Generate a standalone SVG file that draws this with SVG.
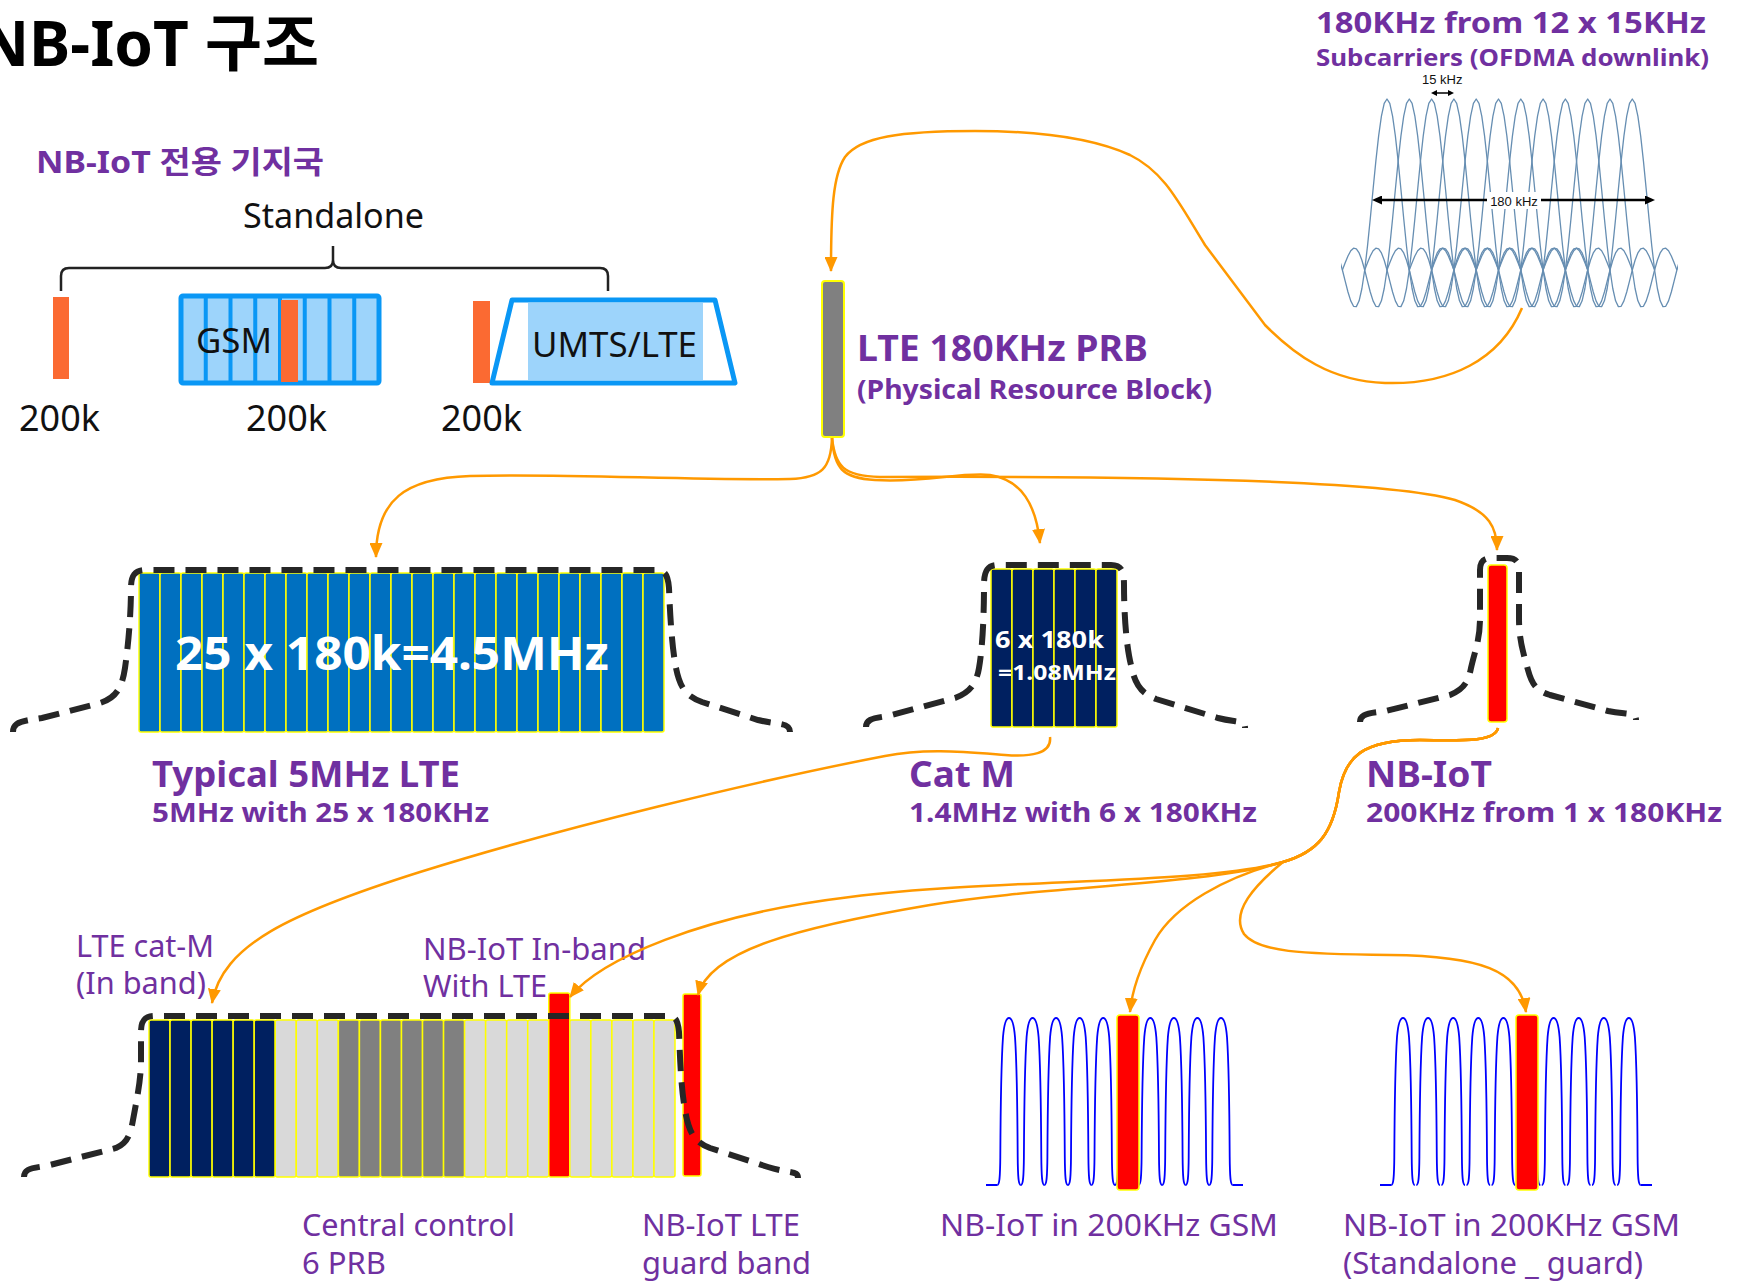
<svg xmlns="http://www.w3.org/2000/svg" xmlns:xlink="http://www.w3.org/1999/xlink" width="1741" height="1283" viewBox="0 0 1741 1283">
<defs>
<style>
text{font-family:"Noto Sans","Noto Sans CJK KR",sans-serif}
.pb{fill:#7030A0;font-weight:bold}
.pr{fill:#7030A0}
.wb{fill:#fff;font-weight:bold}
.bk{fill:#111}
.cell{stroke:#FFFF00;stroke-width:1.5}
.b1{fill:#0070C0}.nv{fill:#002060}.lg{fill:#D9D9D9}.gr{fill:#808080}.rd{fill:#FF0000}
.env{fill:none;stroke:#262626;stroke-width:6;stroke-dasharray:21 11}
.con{fill:none;stroke:#FF9900;stroke-width:2.5;marker-end:url(#ah)}
.or{fill:#FB6A32}
</style>
<marker id="ah" viewBox="0 0 15 13" markerWidth="15" markerHeight="13" refX="14" refY="6.5" orient="auto" markerUnits="userSpaceOnUse"><path d="M0 0L15 6.5L0 13z" fill="#FF9900"/></marker>
<marker id="bka" viewBox="0 0 10 9" markerWidth="10" markerHeight="9" refX="1" refY="4.5" orient="auto-start-reverse" markerUnits="userSpaceOnUse"><path d="M0 0L10 4.5L0 9z" fill="#000"/></marker>
<marker id="bks" viewBox="0 0 6 6" markerWidth="6" markerHeight="6" refX="1" refY="3" orient="auto-start-reverse" markerUnits="userSpaceOnUse"><path d="M0 0L6 3L0 6z" fill="#000"/></marker>
<path id="sinc" d="M-66.9 0L-64.11-7.2L-61.33-14L-58.54-19.2L-55.75-21.8L-52.96-21.2L-50.18-17.1L-47.39-9.8L-44.6 0L-41.81 11.1L-39.03 22L-36.24 30.9L-33.45 36.3L-30.66 36.6L-27.88 30.8L-25.09 18.5L-22.3 0L-19.51-23.8L-16.73-51.3L-13.94-80.5L-11.15-108.9L-8.36-134.1L-5.58-153.9L-2.79-166.6L0-171L2.79-166.6L5.58-153.9L8.36-134.1L11.15-108.9L13.94-80.5L16.73-51.3L19.51-23.8L22.3 0L25.09 18.5L27.88 30.8L30.66 36.6L33.45 36.3L36.24 30.9L39.03 22L41.81 11.1L44.6 0L47.39-9.8L50.18-17.1L52.96-21.2L55.75-21.8L58.54-19.2L61.33-14L64.11-7.2L66.9 0"/>
<path id="bell" d="M-11.8 0C-9.6 0-8.9-7-8.7-28C-8.4-80-7.6-125-6-148C-4.8-162-2.5-167 0-167C2.5-167 4.8-162 6-148C7.6-125 8.4-80 8.7-28C8.9-7 9.6 0 11.8 0"/>
<clipPath id="oc"><rect x="1341" y="80" width="337" height="240"/></clipPath>
</defs>
<rect width="1741" height="1283" fill="#fff"/>

<g id="title">
<text x="319" y="66" text-anchor="end" font-size="62" font-weight="bold" fill="#000">NB-IoT 구조</text>
</g>

<g id="standalone">
<text class="pb" x="36" y="173" font-size="31" textLength="288" lengthAdjust="spacingAndGlyphs">NB-IoT 전용 기지국</text>
<text class="bk" x="243" y="228" font-size="34" textLength="181" lengthAdjust="spacingAndGlyphs">Standalone</text>
<path d="M61 291V276Q61 268 69 268H325Q333 268 333 260V246M333 260Q333 268 341 268H600Q608 268 608 276V291" fill="none" stroke="#222" stroke-width="2.5"/>
<rect class="or" x="53" y="297" width="16" height="82"/>
<text class="bk" x="19" y="431" font-size="37" textLength="81" lengthAdjust="spacingAndGlyphs">200k</text>
</g>

<g id="gsm-band">
<rect x="181" y="296" width="198" height="87" rx="2" fill="#9DD4FB" stroke="#0A97F5" stroke-width="5"/>
<path d="M205.75 296V383M230.5 296V383M255.25 296V383M280 296V383M304.75 296V383M329.5 296V383M354.25 296V383" stroke="#0A97F5" stroke-width="4"/>
<rect class="or" x="281" y="300" width="17" height="82"/>
<text class="bk" x="196" y="353" font-size="35" textLength="76" lengthAdjust="spacingAndGlyphs">GSM</text>
<text class="bk" x="246" y="431" font-size="37" textLength="81" lengthAdjust="spacingAndGlyphs">200k</text>
</g>

<g id="umts-band">
<rect class="or" x="473" y="301" width="17" height="82"/>
<polygon points="512,300 715,300 735,383 492,383" fill="#fff" stroke="#0A97F5" stroke-width="5" stroke-linejoin="round"/>
<rect x="528" y="303" width="175" height="77" fill="#9DD4FB"/>
<text class="bk" x="532" y="357" font-size="35" textLength="165" lengthAdjust="spacingAndGlyphs">UMTS/LTE</text>
<text class="bk" x="441" y="431" font-size="37" textLength="81" lengthAdjust="spacingAndGlyphs">200k</text>
</g>

<g id="prb">
<rect x="822" y="281" width="22" height="156" rx="3" fill="#808080" stroke="#FFFF00" stroke-width="2"/>
<text class="pb" x="857" y="361" font-size="36" textLength="291" lengthAdjust="spacingAndGlyphs">LTE 180KHz PRB</text>
<text class="pb" x="857" y="399" font-size="27" textLength="355" lengthAdjust="spacingAndGlyphs">(Physical Resource Block)</text>
</g>

<g id="ofdma">
<text class="pb" x="1316" y="33" font-size="29" textLength="390" lengthAdjust="spacingAndGlyphs">180KHz from 12 x 15KHz</text>
<text class="pb" x="1316" y="66" font-size="24" textLength="393" lengthAdjust="spacingAndGlyphs">Subcarriers (OFDMA downlink)</text>
<g clip-path="url(#oc)" fill="none" stroke="#5682AA" stroke-width="1.3" stroke-linejoin="round" opacity="0.9">
<use xlink:href="#sinc" x="1387" y="270"/>
<use xlink:href="#sinc" x="1409.3" y="270"/>
<use xlink:href="#sinc" x="1431.6" y="270"/>
<use xlink:href="#sinc" x="1453.9" y="270"/>
<use xlink:href="#sinc" x="1476.2" y="270"/>
<use xlink:href="#sinc" x="1498.5" y="270"/>
<use xlink:href="#sinc" x="1520.8" y="270"/>
<use xlink:href="#sinc" x="1543.1" y="270"/>
<use xlink:href="#sinc" x="1565.4" y="270"/>
<use xlink:href="#sinc" x="1587.7" y="270"/>
<use xlink:href="#sinc" x="1610" y="270"/>
<use xlink:href="#sinc" x="1632.3" y="270"/>
</g>
<text x="1422" y="84" font-size="13" fill="#111" style="font-family:'Liberation Sans',sans-serif">15 kHz</text>
<line x1="1436" y1="93" x2="1449" y2="93" stroke="#000" stroke-width="1.5" marker-start="url(#bks)" marker-end="url(#bks)"/>
<line x1="1381" y1="200" x2="1646" y2="200" stroke="#000" stroke-width="2.5" marker-start="url(#bka)" marker-end="url(#bka)"/>
<rect x="1487" y="192" width="54" height="17" fill="#fff"/>
<text x="1514" y="206" font-size="13" fill="#111" text-anchor="middle" style="font-family:'Liberation Sans',sans-serif">180 kHz</text>
</g>

<g id="lte-5mhz">
<rect class="cell b1" x="139" y="573" width="21" height="159" rx="2"/>
<rect class="cell b1" x="160" y="573" width="21" height="159" rx="2"/>
<rect class="cell b1" x="181" y="573" width="21" height="159" rx="2"/>
<rect class="cell b1" x="202" y="573" width="21" height="159" rx="2"/>
<rect class="cell b1" x="223" y="573" width="21" height="159" rx="2"/>
<rect class="cell b1" x="244" y="573" width="21" height="159" rx="2"/>
<rect class="cell b1" x="265" y="573" width="21" height="159" rx="2"/>
<rect class="cell b1" x="286" y="573" width="21" height="159" rx="2"/>
<rect class="cell b1" x="307" y="573" width="21" height="159" rx="2"/>
<rect class="cell b1" x="328" y="573" width="21" height="159" rx="2"/>
<rect class="cell b1" x="349" y="573" width="21" height="159" rx="2"/>
<rect class="cell b1" x="370" y="573" width="21" height="159" rx="2"/>
<rect class="cell b1" x="391" y="573" width="21" height="159" rx="2"/>
<rect class="cell b1" x="412" y="573" width="21" height="159" rx="2"/>
<rect class="cell b1" x="433" y="573" width="21" height="159" rx="2"/>
<rect class="cell b1" x="454" y="573" width="21" height="159" rx="2"/>
<rect class="cell b1" x="475" y="573" width="21" height="159" rx="2"/>
<rect class="cell b1" x="496" y="573" width="21" height="159" rx="2"/>
<rect class="cell b1" x="517" y="573" width="21" height="159" rx="2"/>
<rect class="cell b1" x="538" y="573" width="21" height="159" rx="2"/>
<rect class="cell b1" x="559" y="573" width="21" height="159" rx="2"/>
<rect class="cell b1" x="580" y="573" width="21" height="159" rx="2"/>
<rect class="cell b1" x="601" y="573" width="21" height="159" rx="2"/>
<rect class="cell b1" x="622" y="573" width="21" height="159" rx="2"/>
<rect class="cell b1" x="643" y="573" width="21" height="159" rx="2"/>
<path class="env" d="M13 732C13 722 22 721 42 718L100 703C116 698 122 688 125 668C129 640 131 610 131 588C131 575 135 570 146 570L656 570C665 570 668 575 669 588C670 615 672 648 676 668C680 688 686 696 702 702L758 720C778 725 790 722 790 732"/>
<text class="wb" x="175" y="670" font-size="46" textLength="434" lengthAdjust="spacingAndGlyphs">25 x 180k=4.5MHz</text>
<text class="pb" x="152" y="787" font-size="35" textLength="308" lengthAdjust="spacingAndGlyphs">Typical 5MHz LTE</text>
<text class="pb" x="152" y="822" font-size="26" textLength="337" lengthAdjust="spacingAndGlyphs">5MHz with 25 x 180KHz</text>
</g>

<g id="cat-m">
<rect class="cell nv" x="991" y="569" width="21" height="158" rx="2"/>
<rect class="cell nv" x="1012" y="569" width="21" height="158" rx="2"/>
<rect class="cell nv" x="1033" y="569" width="21" height="158" rx="2"/>
<rect class="cell nv" x="1054" y="569" width="21" height="158" rx="2"/>
<rect class="cell nv" x="1075" y="569" width="21" height="158" rx="2"/>
<rect class="cell nv" x="1096" y="569" width="21" height="158" rx="2"/>
<path class="env" d="M866 727C866 719 874 718 888 716L955 698C968 693 976 686 979 668C983 645 984 610 984 585C984 570 988 565 998 565L1111 565C1121 565 1124 570 1124 585C1124 612 1126 645 1131 665C1135 685 1141 693 1156 699L1218 718C1238 723 1245 720 1245 728"/>
<text class="wb" x="995" y="648" font-size="23" textLength="109" lengthAdjust="spacingAndGlyphs">6 x 180k</text>
<text class="wb" x="998" y="680" font-size="22" textLength="118" lengthAdjust="spacingAndGlyphs">=1.08MHz</text>
<text class="pb" x="909" y="787" font-size="35" textLength="106" lengthAdjust="spacingAndGlyphs">Cat M</text>
<text class="pb" x="909" y="822" font-size="26" textLength="348" lengthAdjust="spacingAndGlyphs">1.4MHz with 6 x 180KHz</text>
</g>

<g id="nb-iot">
<rect class="cell rd" x="1488" y="565" width="19" height="157" rx="3" stroke-width="2"/>
<path class="env" d="M1360 722C1360 714 1368 713 1386 711L1450 695C1462 690 1468 684 1471 668C1475 650 1480 640 1480 618L1480 570C1480 561 1484 558 1492 558L1507 558C1515 558 1519 561 1519 570L1519 618C1519 640 1523 652 1528 670C1532 685 1537 691 1550 695L1608 711C1628 715 1636 712 1636 720"/>
<text class="pb" x="1366" y="787" font-size="35" textLength="126" lengthAdjust="spacingAndGlyphs">NB-IoT</text>
<text class="pb" x="1366" y="822" font-size="26" textLength="356" lengthAdjust="spacingAndGlyphs">200KHz from 1 x 180KHz</text>
</g>

<g id="lte-inband">
<rect class="cell nv" x="149" y="1020" width="21.04" height="157" rx="2"/>
<rect class="cell nv" x="170.04" y="1020" width="21.04" height="157" rx="2"/>
<rect class="cell nv" x="191.08" y="1020" width="21.04" height="157" rx="2"/>
<rect class="cell nv" x="212.12" y="1020" width="21.04" height="157" rx="2"/>
<rect class="cell nv" x="233.16" y="1020" width="21.04" height="157" rx="2"/>
<rect class="cell nv" x="254.2" y="1020" width="21.04" height="157" rx="2"/>
<rect class="cell lg" x="275.24" y="1020" width="21.04" height="157" rx="2"/>
<rect class="cell lg" x="296.28" y="1020" width="21.04" height="157" rx="2"/>
<rect class="cell lg" x="317.32" y="1020" width="21.04" height="157" rx="2"/>
<rect class="cell gr" x="338.36" y="1020" width="21.04" height="157" rx="2"/>
<rect class="cell gr" x="359.4" y="1020" width="21.04" height="157" rx="2"/>
<rect class="cell gr" x="380.44" y="1020" width="21.04" height="157" rx="2"/>
<rect class="cell gr" x="401.48" y="1020" width="21.04" height="157" rx="2"/>
<rect class="cell gr" x="422.52" y="1020" width="21.04" height="157" rx="2"/>
<rect class="cell gr" x="443.56" y="1020" width="21.04" height="157" rx="2"/>
<rect class="cell lg" x="464.6" y="1020" width="21.04" height="157" rx="2"/>
<rect class="cell lg" x="485.64" y="1020" width="21.04" height="157" rx="2"/>
<rect class="cell lg" x="506.68" y="1020" width="21.04" height="157" rx="2"/>
<rect class="cell lg" x="527.72" y="1020" width="21.04" height="157" rx="2"/>
<rect class="cell rd" x="548.76" y="993" width="21.04" height="184" rx="2" stroke-width="2"/>
<rect class="cell lg" x="569.8" y="1020" width="21.04" height="157" rx="2"/>
<rect class="cell lg" x="590.84" y="1020" width="21.04" height="157" rx="2"/>
<rect class="cell lg" x="611.88" y="1020" width="21.04" height="157" rx="2"/>
<rect class="cell lg" x="632.92" y="1020" width="21.04" height="157" rx="2"/>
<rect class="cell lg" x="653.96" y="1020" width="21.04" height="157" rx="2"/>
<rect class="cell rd" x="683" y="994" width="18" height="182" rx="2" stroke-width="2"/>
<path class="env" d="M24 1177C24 1169 31 1168 46 1166L116 1148C126 1144 130 1137 133 1120C137 1098 141 1080 141 1060L141 1032C141 1020 145 1016 155 1016L668 1016C676 1016 678 1021 679 1032C680 1058 681 1088 685 1110C689 1134 695 1142 710 1148L768 1167C790 1174 798 1170 798 1178"/>
<text class="pr" x="76" y="957" font-size="30" textLength="138" lengthAdjust="spacingAndGlyphs">LTE cat-M</text>
<text class="pr" x="76" y="994" font-size="30" textLength="130" lengthAdjust="spacingAndGlyphs">(In band)</text>
<text class="pr" x="423" y="960" font-size="30" textLength="223" lengthAdjust="spacingAndGlyphs">NB-IoT In-band</text>
<text class="pr" x="423" y="997" font-size="30" textLength="124" lengthAdjust="spacingAndGlyphs">With LTE</text>
<text class="pr" x="302" y="1236" font-size="30" textLength="213" lengthAdjust="spacingAndGlyphs">Central control</text>
<text class="pr" x="302" y="1274" font-size="30" textLength="84" lengthAdjust="spacingAndGlyphs">6 PRB</text>
<text class="pr" x="642" y="1236" font-size="30" textLength="158" lengthAdjust="spacingAndGlyphs">NB-IoT LTE</text>
<text class="pr" x="642" y="1274" font-size="30" textLength="169" lengthAdjust="spacingAndGlyphs">guard band</text>
</g>

<g id="gsm-inband">
<g fill="none" stroke="#0000FF" stroke-width="1.8">
<path d="M986 1185H997.2M1232.8 1185H1243"/>
<use xlink:href="#bell" x="1009" y="1185"/>
<use xlink:href="#bell" x="1032.6" y="1185"/>
<use xlink:href="#bell" x="1056.1" y="1185"/>
<use xlink:href="#bell" x="1079.7" y="1185"/>
<use xlink:href="#bell" x="1103.2" y="1185"/>
<use xlink:href="#bell" x="1126.8" y="1185"/>
<use xlink:href="#bell" x="1150.3" y="1185"/>
<use xlink:href="#bell" x="1173.9" y="1185"/>
<use xlink:href="#bell" x="1197.4" y="1185"/>
<use xlink:href="#bell" x="1221" y="1185"/>
</g>
<rect class="cell rd" x="1117" y="1015" width="22" height="175" rx="3" stroke-width="2"/>
<text class="pr" x="940" y="1236" font-size="30" textLength="338" lengthAdjust="spacingAndGlyphs">NB-IoT in 200KHz GSM</text>
</g>

<g id="gsm-guard">
<g fill="none" stroke="#0000FF" stroke-width="1.8">
<path d="M1380 1185H1391.2M1640.7 1185H1652"/>
<use xlink:href="#bell" x="1403" y="1185"/>
<use xlink:href="#bell" x="1428.1" y="1185"/>
<use xlink:href="#bell" x="1453.2" y="1185"/>
<use xlink:href="#bell" x="1478.3" y="1185"/>
<use xlink:href="#bell" x="1503.4" y="1185"/>
<use xlink:href="#bell" x="1528.5" y="1185"/>
<use xlink:href="#bell" x="1553.6" y="1185"/>
<use xlink:href="#bell" x="1578.7" y="1185"/>
<use xlink:href="#bell" x="1603.8" y="1185"/>
<use xlink:href="#bell" x="1628.9" y="1185"/>
</g>
<rect class="cell rd" x="1516" y="1015" width="22" height="175" rx="3" stroke-width="2"/>
<text class="pr" x="1343" y="1236" font-size="30" textLength="337" lengthAdjust="spacingAndGlyphs">NB-IoT in 200KHz GSM</text>
<text class="pr" x="1343" y="1274" font-size="30" textLength="300" lengthAdjust="spacingAndGlyphs">(Standalone _ guard)</text>
</g>

<g id="connectors">
<path class="con" d="M1522 308C1500 360 1450 385 1385 383C1330 381 1295 355 1265 325L1205 245C1180 205 1165 172 1130 155C1090 137 1030 131 975 131C900 131 860 137 845 157C833 175 831 210 831 271"/>
<path class="con" d="M832 438C831 468 822 478 790 479C700 481 560 473 470 476C405 478 376 500 376 557"/>
<path class="con" d="M832 438C834 468 842 478 875 480C925 483 960 472 990 475C1022 480 1036 505 1040 543"/>
<path class="con" d="M832 438C835 466 843 476 880 477C1100 476 1380 478 1455 500C1490 512 1497 528 1497 550"/>
<path class="con" d="M1050 737C1052 754 1030 757 1005 755C965 752 925 748 885 756C760 780 560 828 420 872C290 913 222 945 212 1003"/>
<path class="con" d="M1498 728C1495 741 1470 741 1420 740C1362 740 1345 757 1339 792C1333 833 1318 852 1283 862C1200 885 1000 878 850 897C700 915 600 960 570 997"/>
<path class="con" d="M1498 728C1495 741 1470 741 1420 740C1362 740 1345 757 1339 792C1333 833 1318 852 1283 862C1200 886 1040 886 930 905C800 927 710 950 698 995"/>
<path class="con" d="M1498 728C1495 741 1470 741 1420 740C1362 740 1345 757 1339 792C1333 833 1318 852 1283 862C1225 877 1175 905 1155 940C1140 967 1132 990 1130 1012"/>
<path class="con" d="M1498 728C1495 741 1470 741 1420 740C1362 740 1345 757 1339 792C1333 833 1318 852 1283 862C1255 885 1230 912 1244 934C1258 952 1300 954 1390 955C1480 956 1520 970 1526 1012"/>
</g>
</svg>
